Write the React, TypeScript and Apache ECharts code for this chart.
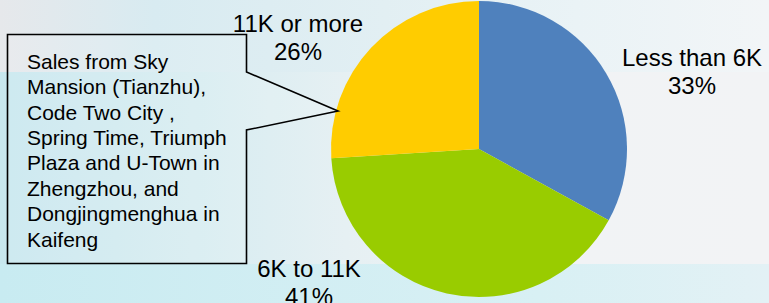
import React, { useEffect, useRef } from "react";
import * as echarts from "echarts";

const categories = ["Less than 6K", "6K to 11K", "11K or more"];
const shares = [33, 41, 26];
const sliceColors = ["#4F81BD", "#99CC00", "#FFCC00"];
const calloutLines = [
  "Sales from Sky",
  "Mansion (Tianzhu),",
  "Code Two City ,",
  "Spring Time, Triumph",
  "Plaza and U-Town in",
  "Zhengzhou, and",
  "Dongjingmenghua in",
  "Kaifeng",
];

// label anchor positions (centre of each two-line label)
const labelAnchors: [number, number][] = [
  [692, 71],
  [309, 282],
  [298, 37],
];

const W = 769;
const H = 303;

function grad(stops: [number, string][], horizontal = true) {
  return new echarts.graphic.LinearGradient(
    0,
    0,
    horizontal ? 1 : 0,
    horizontal ? 0 : 1,
    stops.map(([offset, color]) => ({ offset, color }))
  );
}

export default function App() {
  const ref = useRef<HTMLDivElement>(null);

  useEffect(() => {
    document.body.style.margin = "0";
    if (!ref.current) return;
    const chart = echarts.init(ref.current, undefined, { renderer: "svg" });

    const font = "'Liberation Sans', Arial, sans-serif";

    chart.setOption({
      animation: false,
      backgroundColor: "#F2F4F6",
      graphic: [
        {
          type: "rect",
          z: 0,
          shape: { x: 0, y: 0, width: W, height: 72 },
          style: {
            fill: grad([
              [0, "#E6E8EB"],
              [0.2, "#D8EBF1"],
              [0.5, "#E2EFF3"],
              [0.75, "#EAF3F6"],
              [1, "#F2F5F7"],
            ]),
          },
        },
        {
          type: "rect",
          z: 0,
          shape: { x: 0, y: 72, width: W, height: 192 },
          style: {
            fill: grad([
              [0, "#C7E7EE"],
              [0.25, "#D6ECF1"],
              [0.45, "#E6F0F3"],
              [0.75, "#F1F3F5"],
              [1, "#F2F3F5"],
            ]),
          },
        },
        {
          type: "rect",
          z: 0,
          shape: { x: 0, y: 264, width: W, height: 40 },
          style: {
            fill: grad([
              [0, "#C8EBF1"],
              [0.4, "#D2EEF3"],
              [0.7, "#D8F0F4"],
              [1, "#E3F1F5"],
            ]),
          },
        },
        {
          type: "polygon",
          z: 5,
          shape: {
            points: [
              [7.5, 34.5],
              [246.5, 34.5],
              [246.5, 72],
              [338, 111],
              [246.5, 130],
              [246.5, 263.5],
              [7.5, 263.5],
            ],
          },
          style: {
            fill: "rgba(255,255,255,0.12)",
            stroke: "#000",
            lineWidth: 1.6,
          },
        },
        {
          type: "text",
          z: 6,
          x: 27,
          y: 48.5,
          style: {
            text: calloutLines.join("\n"),
            font: `21px ${font}`,
            fill: "#000",
            lineHeight: 25.4,
            align: "left",
            verticalAlign: "top",
          },
        },
      ],
      series: [
        {
          type: "pie",
          center: [479, 149],
          radius: 148,
          startAngle: 90,
          clockwise: true,
          percentPrecision: 0,
          data: categories.map((name, i) => ({
            name,
            value: shares[i],
            itemStyle: { color: sliceColors[i] },
          })),
          label: {
            show: true,
            position: "outside",
            formatter: "{b}\n{d}%",
            fontFamily: font,
            fontSize: 24,
            lineHeight: 28,
            color: "#000",
            align: "center",
            overflow: "none",
            width: 200,
          },
          labelLine: { show: false },
          labelLayout: (params: any) => {
            const a = labelAnchors[params.dataIndex];
            return {
              x: a[0],
              y: a[1],
              align: "center",
              verticalAlign: "middle",
            };
          },
          emphasis: { disabled: true },
        },
      ],
    });

    return () => chart.dispose();
  }, []);

  return (
    <div
      ref={ref}
      style={{ position: "fixed", left: 0, top: 0, width: W, height: H }}
    />
  );
}
